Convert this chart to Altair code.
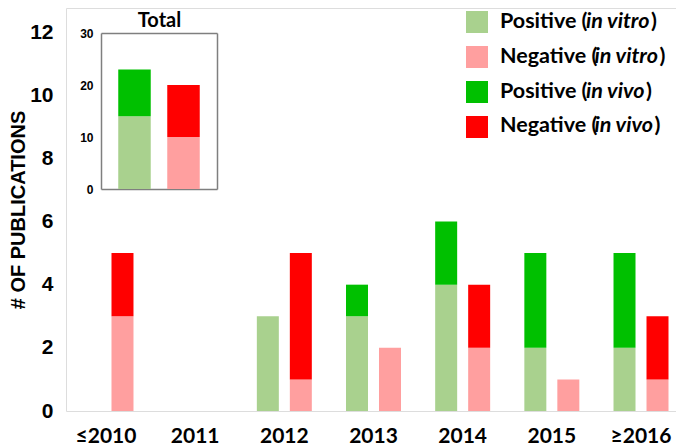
import altair as alt
import pandas as pd

years = ["≤2010", "2011", "2012", "2013", "2014", "2015", "≥2016"]
pos_vitro = [0, 0, 3, 3, 4, 2, 2]
pos_vivo = [0, 0, 0, 1, 2, 3, 3]
neg_vitro = [3, 0, 1, 2, 2, 1, 1]
neg_vivo = [2, 0, 4, 0, 2, 0, 2]

total_signs = ["Positive", "Negative"]
total_vitro = [14, 10]
total_vivo = [9, 10]

series_names = ["Positive (in vitro)", "Negative (in vitro)", "Positive (in vivo)", "Negative (in vivo)"]
series_colors = ["#a9d18e", "#ff9f9f", "#00c000", "#ff0000"]

rows = []
for i, yr in enumerate(years):
    rows.append(dict(year=yr, sign="Positive", series=series_names[0], layer=0, n=pos_vitro[i]))
    rows.append(dict(year=yr, sign="Positive", series=series_names[2], layer=1, n=pos_vivo[i]))
    rows.append(dict(year=yr, sign="Negative", series=series_names[1], layer=0, n=neg_vitro[i]))
    rows.append(dict(year=yr, sign="Negative", series=series_names[3], layer=1, n=neg_vivo[i]))
df = pd.DataFrame(rows)

trows = []
for i, s in enumerate(total_signs):
    trows.append(dict(sign=s, series=f"{s} (in vitro)", layer=0, n=total_vitro[i]))
    trows.append(dict(sign=s, series=f"{s} (in vivo)", layer=1, n=total_vivo[i]))
dft = pd.DataFrame(trows)

W, H = 610, 403
LEG_FONT = 21.5

color = alt.Color(
    "series:N",
    scale=alt.Scale(domain=series_names, range=series_colors),
    legend=alt.Legend(
        title=None, orient="none", legendX=400, legendY=3, symbolType="square",
        symbolSize=484, symbolStrokeWidth=0, labelExpr="''", labelFontSize=10,
        rowPadding=13, padding=0,
    ),
)

main = alt.Chart(df).mark_bar().encode(
    x=alt.X("year:N", sort=years,
            scale=alt.Scale(range=[0, 615], paddingInner=0.26, paddingOuter=0.0785),
            axis=alt.Axis(title=None, labelFont="Lato", labelFontWeight="bold", labelFontSize=21,
                          labelColor="black", ticks=False, tickSize=0, domain=False,
                          labelPadding=14, labelAngle=0)),
    xOffset=alt.XOffset("sign:N", sort=["Positive", "Negative"],
                        scale=alt.Scale(paddingInner=1/3, paddingOuter=1/6)),
    y=alt.Y("n:Q", stack="zero",
            scale=alt.Scale(domain=[0, 12.76], nice=False),
            axis=alt.Axis(values=[0, 2, 4, 6, 8, 10, 12], title="# OF PUBLICATIONS", grid=False,
                          ticks=False, tickSize=0, domain=False, labelFont="Liberation Sans",
                          labelFontSize=21, labelFontWeight="bold", labelColor="black",
                          labelPadding=13, titleFont="Liberation Sans", titleFontSize=20,
                          titleFontWeight="bold", titleColor="black",
                          titleX=-42, titleBaseline="alphabetic")),
    color=color,
    order=alt.Order("layer:Q"),
)

inset_x_scale = alt.Scale(domain=total_signs, range=[35, 151], paddingInner=0.337, paddingOuter=0.352)
inset_y_scale = alt.Scale(domain=[0, 30], range=[181, 25], nice=False)
frame_color = "#7f7f7f"

inset = alt.Chart(dft).mark_bar().encode(
    x=alt.X("sign:N", sort=total_signs, scale=inset_x_scale,
            axis=alt.Axis(orient="top", offset=-25, labels=False, ticks=False, tickSize=0,
                          title="Total", titleFont="Lato", titleFontSize=20, titleFontWeight="bold",
                          titleColor="black", titlePadding=3, domainColor=frame_color, domainWidth=1.5)),
    y=alt.Y("n:Q", stack="zero", scale=inset_y_scale,
            axis=alt.Axis(orient="left", offset=-35, values=[0, 10, 20, 30], grid=False, ticks=False,
                          tickSize=0, labelFont="Liberation Sans", labelFontSize=12,
                          labelFontWeight="bold", labelColor="black", title=None, labelPadding=8,
                          domainColor=frame_color, domainWidth=1.5)),
    color=alt.Color("series:N", legend=None),
    order=alt.Order("layer:Q"),
)

frame = alt.Chart(dft).mark_bar(opacity=0).encode(
    x=alt.X("sign:N", sort=total_signs, scale=inset_x_scale,
            axis=alt.Axis(orient="bottom", offset=-(H - 181), labels=False, ticks=False, tickSize=0,
                          title=None, domainColor=frame_color, domainWidth=1.5)),
    y=alt.Y("n:Q", stack=None, scale=inset_y_scale,
            axis=alt.Axis(orient="right", offset=-(W - 151), labels=False, ticks=False, tickSize=0,
                          grid=False, title=None, domainColor=frame_color, domainWidth=1.5)),
)

# legend labels with italic parts (upright prefix, italic middle, upright ")")
leg_x0 = 434
leg_row_y = [14, 49, 84, 118]
prefix_w = {"Positive": 86, "Negative": 94.5}
italic_w = {"in vitro": 65, "in vivo": 60}
legend_layers = []
for k, name in enumerate(series_names):
    pre, rest = name.split("(")
    pre = pre + "("
    ital = rest.rstrip(")")
    sign = pre.split(" ")[0]
    xs = [leg_x0, leg_x0 + prefix_w[sign], leg_x0 + prefix_w[sign] + italic_w[ital]]
    for txt, xx, style in zip([pre, ital, ")"], xs, ["normal", "italic", "normal"]):
        legend_layers.append(
            alt.Chart(pd.DataFrame({"t": [txt]})).mark_text(
                font="Lato", fontSize=LEG_FONT, fontWeight="bold", fontStyle=style,
                align="left", baseline="middle", color="black",
            ).encode(text="t:N", x=alt.value(xx), y=alt.value(leg_row_y[k]))
        )

chart = (
    alt.layer(main, inset, frame, *legend_layers)
    .resolve_scale(x="independent", y="independent")
    .resolve_axis(x="independent", y="independent")
    .properties(width=W, height=H, autosize=alt.AutoSizeParams(type="none"),
                padding={"left": 58, "top": 0, "right": 0, "bottom": 36})
    .configure_view(stroke="#262626", strokeWidth=2.5, fill="#f2f2f2")
    .configure(background="white")
)

chart.save("out.html", embed_options={"renderer": "svg", "actions": False})
